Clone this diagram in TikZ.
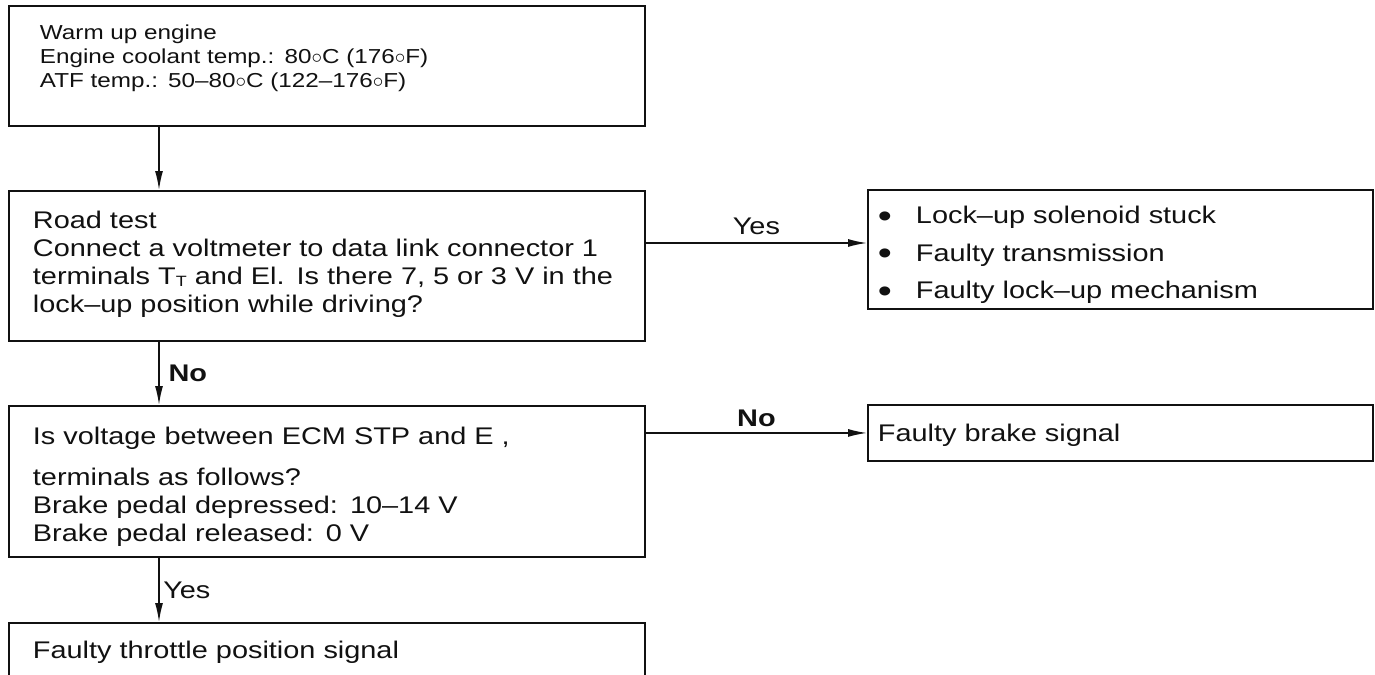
\documentclass[tikz,border=0pt]{standalone}
\usepackage{fontspec}
\setmainfont{Liberation Sans}[FakeStretch=1.2]
\usepackage{tikz}
\usetikzlibrary{arrows.meta,positioning,calc}
\definecolor{ink}{HTML}{111111}
\newcommand\smallnote{\fontsize{11.5}{13.66}\selectfont}
\newcommand\stepnote{\fontsize{13.7}{15.9}\selectfont}
\newcommand\listnote{\fontsize{13.7}{21.3}\selectfont}
\newcommand\dotitem{\makebox[.76cm][l]{\raisebox{-1.9pt}{\fontsize{19}{19}\selectfont\textbullet}}}
\tikzset{
  >={Latex[length=3.8mm,width=1.6mm]},
  card/.style={draw=ink,line width=1.1pt,anchor=north west,inner ysep=0pt,align=left,font=\stepnote,text=ink},
  flow/.style={->,line width=.85pt,color=ink},
  tag/.style={font=\stepnote,text=ink,inner sep=1pt},
}

\begin{document}
\begin{tikzpicture}[x=0.02cm,y=-0.02cm]
  \useasboundingbox (0,0) rectangle (1375,675);
  \clip (0,0) rectangle (1375,675);
  \coordinate (spine) at (159,0);
  \coordinate (yesrow) at (0,243);

  % left column
  \node[card,font=\smallnote,inner xsep=.62cm,text width=11.48cm,text height=.68cm,text depth=1.72cm] (warm) at (8,5)
    {Warm up engine\\Engine coolant temp.: 80$\circ$C (176$\circ$F)\\ATF temp.: 50–80$\circ$C (122–176$\circ$F)};
  \node[card,inner xsep=.48cm,text width=11.76cm,text height=.76cm,text depth=2.24cm] (road) at (8,190)
    {Road test\\Connect a voltmeter to data link connector 1\\terminals T\raisebox{-.15ex}{\fontsize{8.5}{8.5}\selectfont T} and El. Is there 7, 5 or 3 V in the\\lock–up position while driving?};
  \node[card,inner xsep=.48cm,text width=11.76cm,text height=.78cm,text depth=2.24cm] (ecm) at (8,405)
    {Is voltage between ECM STP and E ,\\[.26cm]terminals as follows?\\Brake pedal depressed: 10–14 V\\Brake pedal released: 0 V};
  \node[card,inner xsep=.48cm,text width=11.76cm,text height=.72cm,text depth=1.4cm] (throttle) at (8,622)
    {Faulty throttle position signal};

  % right column
  \node[card,font=\listnote,inner xsep=.2cm,text width=9.7cm,text height=.68cm,text depth=1.7cm] (lock) at (867,189)
    {\dotitem Lock–up solenoid stuck\\\dotitem Faulty transmission\\\dotitem Faulty lock–up mechanism};
  \node[card,inner xsep=.2cm,text width=9.7cm,text height=.74cm,text depth=.38cm] (brake) at (867,404)
    {Faulty brake signal};

  % connectors
  \draw[flow] (warm.south -| spine) -- (road.north -| spine);
  \draw[flow] (road.south -| spine) -- node[tag,right=4pt,font=\stepnote\bfseries] {No} (ecm.north -| spine);
  \draw[flow] (ecm.south -| spine) -- node[tag,right=1pt] {Yes} (throttle.north -| spine);
  \draw[flow] (road.east |- yesrow) -- node[tag,above=3pt] {Yes} (lock.west |- yesrow);
  \draw[flow] (ecm.east |- brake.west) -- node[tag,above=2pt,font=\stepnote\bfseries] {No} (brake.west);
\end{tikzpicture}
\end{document}
